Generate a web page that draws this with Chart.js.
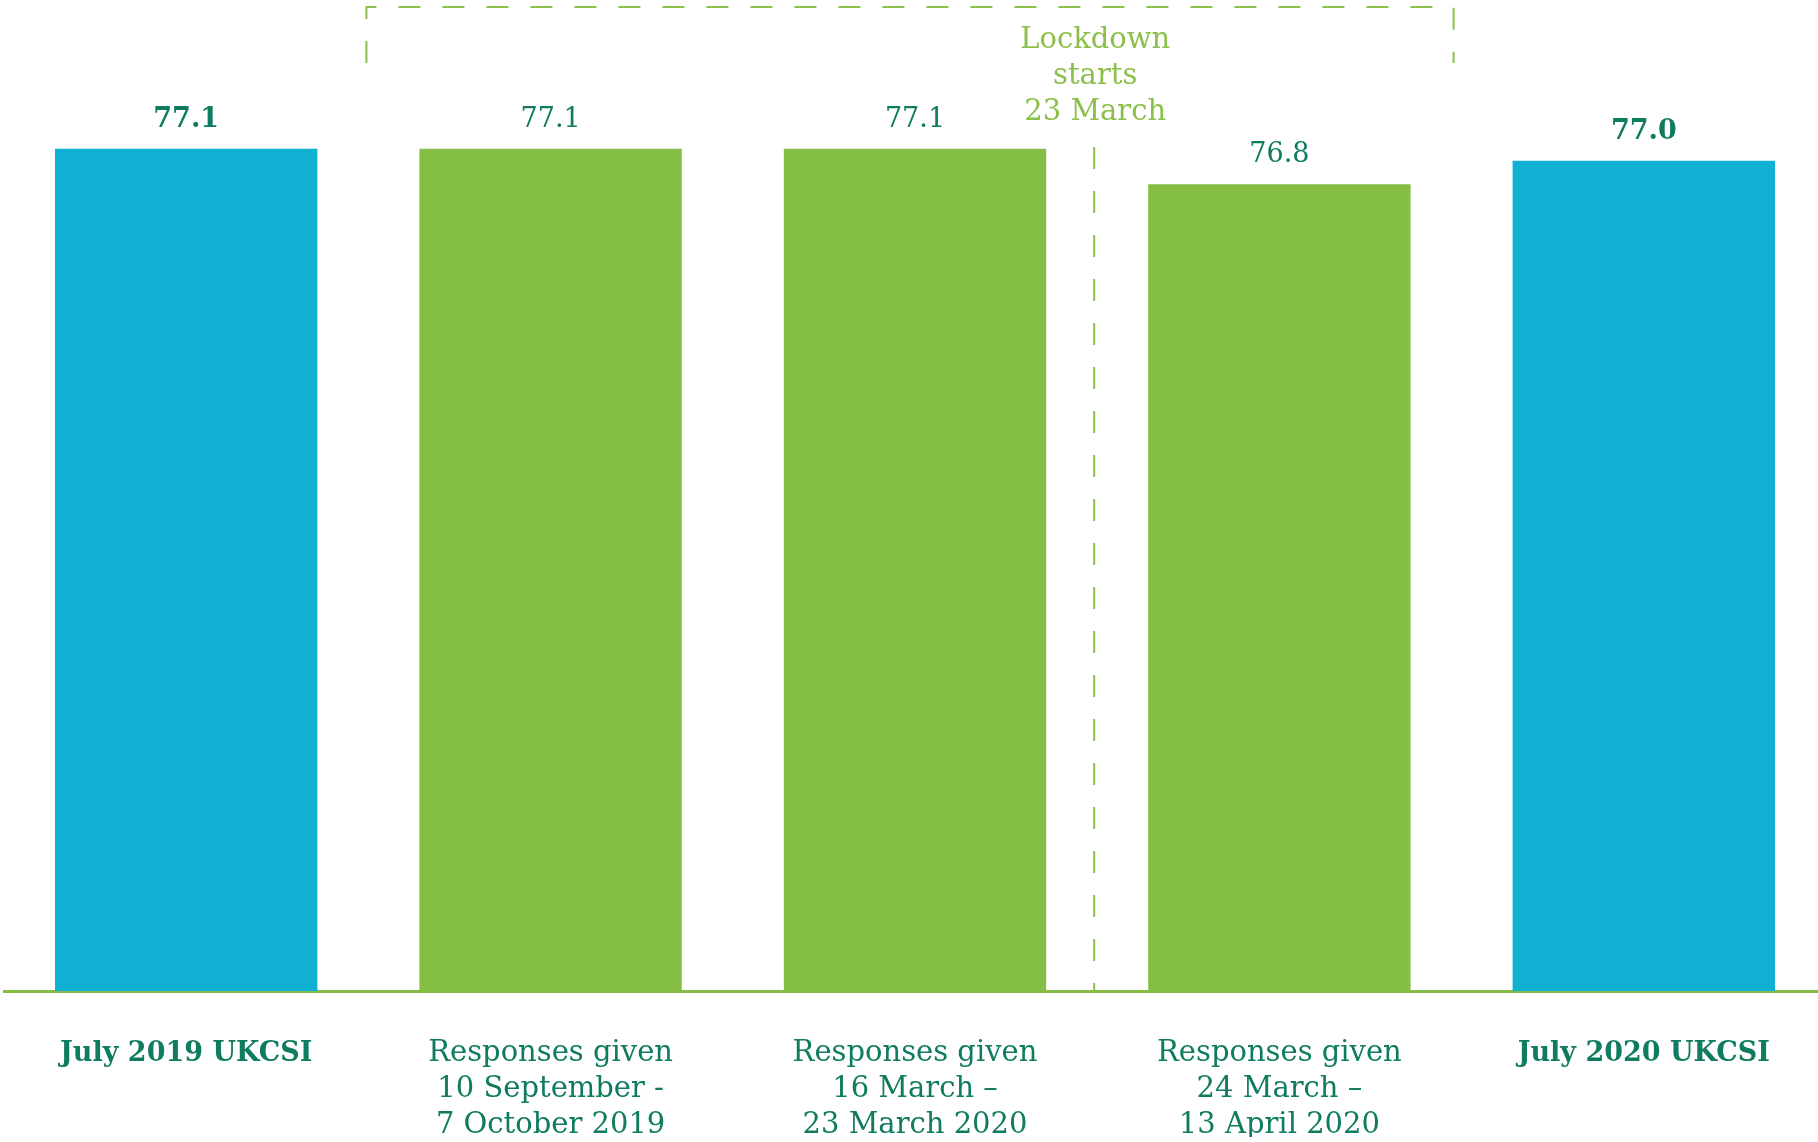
<!DOCTYPE html>
<html>
<head>
<meta charset="utf-8">
<script src="https://cdn.jsdelivr.net/npm/chart.js@4/dist/chart.umd.min.js"></script>
<style>
  html, body { margin: 0; padding: 0; background: #fff; overflow: hidden; }
  canvas { display: block; }
</style>
</head>
<body>
<canvas id="satisfaccionChart" width="1826" height="1142"></canvas>
<script>
// datos del grafico
const categories = [
  ["July 2019 UKCSI"],
  ["Responses given", "10 September -", "7 October 2019"],
  ["Responses given", "16 March –", "23 March 2020"],
  ["Responses given", "24 March –", "13 April 2020"],
  ["July 2020 UKCSI"]
];
const scores = [77.1, 77.1, 77.1, 76.8, 77.0];
const isUkcsi = [true, false, false, false, true];
const lockdownLines = ["Lockdown", "starts", "23 March"];

const BLUE = '#10b0d3';
const GREEN = '#84be42';
const TEXT = '#0f7b5f';
const LIGHT = '#8dc04a';
const FONT = '"DejaVu Serif", serif';

// etiquetas de valor encima de cada barra
const valueLabels = {
  id: 'valueLabels',
  afterDatasetsDraw(chart) {
    const ctx = chart.ctx;
    const meta = chart.getDatasetMeta(0);
    ctx.save();
    ctx.textAlign = 'center';
    ctx.textBaseline = 'middle';
    ctx.fillStyle = TEXT;
    meta.data.forEach((bar, i) => {
      ctx.font = (isUkcsi[i] ? 'bold ' : '') + '27px ' + FONT;
      ctx.fillText(scores[i].toFixed(1), bar.x, bar.y - 29);
    });
    ctx.restore();
  }
};

// recuadro y linea del confinamiento
const lockdown = {
  id: 'lockdown',
  afterDatasetsDraw(chart) {
    const ctx = chart.ctx;
    const x = chart.scales.x;
    const bottom = chart.chartArea.bottom;
    const left = x.getPixelForValue(0.5) - 2;
    const right = x.getPixelForValue(3.5) - 8;
    const mid = x.getPixelForValue(2.5) - 3;
    ctx.save();
    ctx.strokeStyle = LIGHT;
    ctx.lineWidth = 2;
    ctx.setLineDash([22, 22]);
    ctx.beginPath();
    ctx.moveTo(left, 63);
    ctx.lineTo(left, 7);
    ctx.lineTo(right, 7);
    ctx.lineTo(right, 63);
    ctx.stroke();
    ctx.beginPath();
    ctx.moveTo(mid, 147);
    ctx.lineTo(mid, bottom);
    ctx.stroke();
    ctx.setLineDash([]);
    ctx.fillStyle = LIGHT;
    ctx.font = '29px ' + FONT;
    ctx.textAlign = 'center';
    ctx.textBaseline = 'middle';
    lockdownLines.forEach((t, i) => ctx.fillText(t, mid + 1, 40 + i * 36));
    ctx.restore();
  }
};

const ctx = document.getElementById('satisfaccionChart').getContext('2d');
new Chart(ctx, {
  type: 'bar',
  data: {
    labels: categories,
    datasets: [{
      data: scores,
      backgroundColor: isUkcsi.map(b => b ? BLUE : GREEN),
      barPercentage: 0.72,
      categoryPercentage: 1
    }]
  },
  options: {
    responsive: false,
    animation: false,
    layout: { padding: { top: 42, left: 4, right: 0, bottom: 5 } },
    plugins: {
      legend: { display: false },
      tooltip: { enabled: false }
    },
    scales: {
      x: {
        grid: { display: false, drawTicks: false },
        border: { display: true, color: GREEN, width: 3 },
        afterFit: (scale) => { scale.height = 146; },
        ticks: {
          padding: 44,
          maxRotation: 0,
          autoSkip: false,
          color: TEXT,
          font: (c) => ({
            family: FONT,
            size: isUkcsi[c.index] ? 27 : 29,
            weight: isUkcsi[c.index] ? 'bold' : 'normal',
            lineHeight: isUkcsi[c.index] ? 1.4 : 1.25
          })
        }
      },
      y: {
        display: false,
        min: 70,
        max: 78
      }
    }
  },
  plugins: [valueLabels, lockdown]
});
</script>
</body>
</html>
